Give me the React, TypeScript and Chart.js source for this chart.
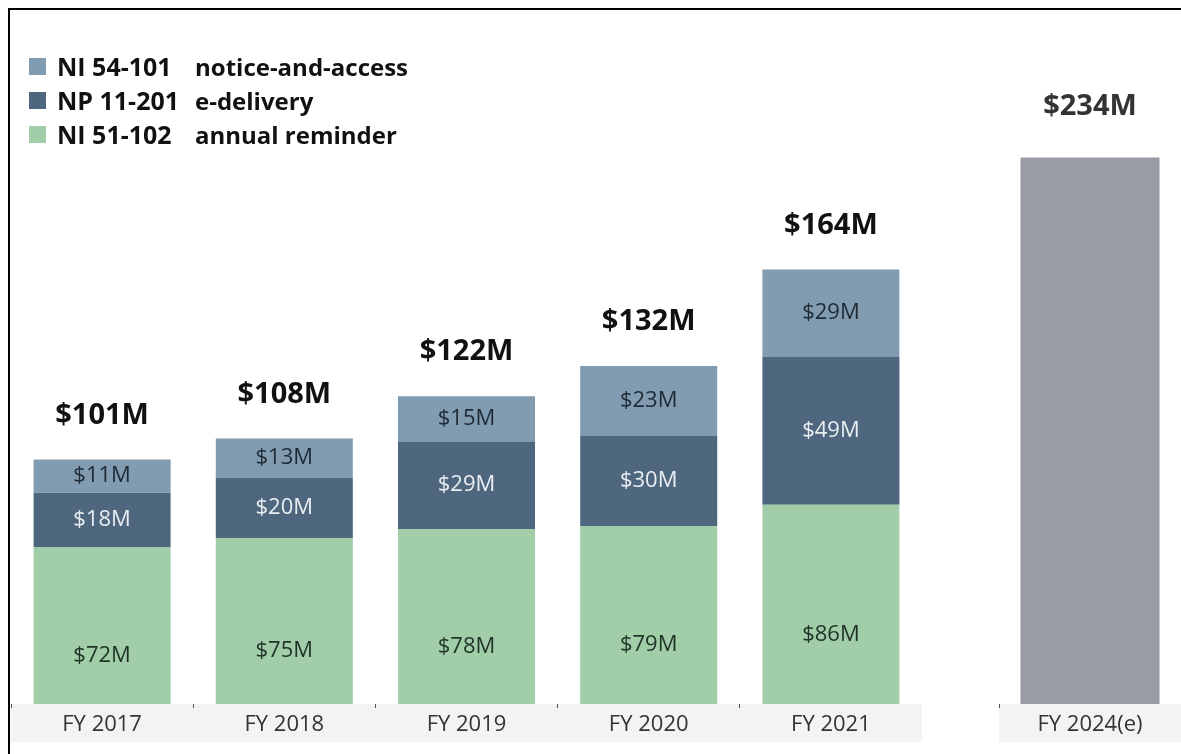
import React, { useEffect, useRef } from "react";
import { Chart, registerables } from "chart.js";

Chart.register(...registerables);

const categories = ["FY 2017", "FY 2018", "FY 2019", "FY 2020", "FY 2021"];
const reminderValues = [72, 75, 78, 79, 86];
const eDeliveryValues = [18, 20, 29, 30, 49];
const noticeValues = [11, 13, 15, 23, 29];
const forecastCategories = ["FY 2024(e)"];
const forecastValues = [234];

const legendItems = [
  { code: "NI 54-101", text: "notice-and-access", color: "#819bb0" },
  { code: "NP 11-201", text: "e-delivery", color: "#4e667e" },
  { code: "NI 51-102", text: "annual reminder", color: "#a1cda9" },
];

const FONT = "'Open Sans', 'Noto Sans', sans-serif";

const bandPlugin = {
  id: "band",
  beforeDraw(chart: any) {
    const { ctx, chartArea } = chart;
    ctx.save();
    ctx.fillStyle = "#f3f3f3";
    ctx.fillRect(chartArea.left, chartArea.bottom, chartArea.right - chartArea.left, 38);
    ctx.restore();
  },
};

function makeLabelPlugin(labelColors: string[], totalColor: string, totalOffset: number) {
  return {
    id: "segLabels",
    afterDatasetsDraw(chart: any) {
      const { ctx } = chart;
      const y = chart.scales.y;
      const datasets = chart.data.datasets;
      ctx.save();
      ctx.textAlign = "center";
      ctx.textBaseline = "middle";
      const n = datasets[0].data.length;
      if (datasets.length > 1) {
        datasets.forEach((ds: any, i: number) => {
          const meta = chart.getDatasetMeta(i);
          meta.data.forEach((bar: any, j: number) => {
            let start = 0;
            for (let k = 0; k < i; k++) start += datasets[k].data[j];
            const end = start + ds.data[j];
            const py = (y.getPixelForValue(start) + y.getPixelForValue(end)) / 2;
            ctx.font = `400 22px ${FONT}`;
            ctx.fillStyle = labelColors[i];
            ctx.fillText(`$${ds.data[j]}M`, bar.x, py);
          });
        });
      }
      const meta0 = chart.getDatasetMeta(0);
      for (let j = 0; j < n; j++) {
        let total = 0;
        datasets.forEach((ds: any) => (total += ds.data[j]));
        const px = meta0.data[j].x;
        const py = y.getPixelForValue(total) - totalOffset;
        ctx.font = `700 29px ${FONT}`;
        ctx.fillStyle = totalColor;
        ctx.fillText(`$${total}M`, px, py);
      }
      ctx.restore();
    },
  };
}

function xAxis() {
  return {
    stacked: true,
    grid: {
      display: true,
      drawOnChartArea: false,
      drawTicks: true,
      tickLength: 4,
      color: "#555",
      offset: true,
      lineWidth: 1,
    },
    border: { display: false },
    ticks: { font: { family: FONT, size: 22 }, color: "#333", padding: 4 },
    afterFit: (s: any) => {
      s.height = 40;
    },
  };
}

function MainChart() {
  const ref = useRef<HTMLCanvasElement>(null);
  useEffect(() => {
    const chart = new Chart(ref.current!, {
      type: "bar",
      data: {
        labels: categories,
        datasets: [
          { label: "NI 51-102 annual reminder", data: reminderValues, backgroundColor: "#a1cda9", clip: 0 } as any,
          { label: "NP 11-201 e-delivery", data: eDeliveryValues, backgroundColor: "#4e667e", clip: 0 } as any,
          { label: "NI 54-101 notice-and-access", data: noticeValues, backgroundColor: "#819bb0", clip: 0 } as any,
        ],
      },
      options: {
        responsive: false,
        animation: false,
        layout: { padding: { top: 30, left: 0, right: 0, bottom: 0 } },
        datasets: { bar: { categoryPercentage: 1, barPercentage: 0.752 } },
        plugins: { legend: { display: false }, tooltip: { enabled: false } },
        scales: {
          x: xAxis() as any,
          y: { stacked: true, display: false, min: 20, max: 240 },
        },
      },
      plugins: [bandPlugin, makeLabelPlugin(["#1f3326", "#e9eef2", "#1e2b36"], "#111111", 44)],
    });
    return () => chart.destroy();
  }, []);
  return (
    <canvas
      ref={ref}
      width={911}
      height={734}
      style={{ position: "absolute", left: 1, top: 0, width: 911, height: 734 }}
    />
  );
}

function ForecastChart() {
  const ref = useRef<HTMLCanvasElement>(null);
  useEffect(() => {
    const chart = new Chart(ref.current!, {
      type: "bar",
      data: {
        labels: forecastCategories,
        datasets: [{ label: "Total", data: forecastValues, backgroundColor: "#999ca3" }],
      },
      options: {
        responsive: false,
        animation: false,
        layout: { padding: { top: 40, left: 0, right: 0, bottom: 0 } },
        datasets: { bar: { categoryPercentage: 1, barPercentage: 0.764 } },
        plugins: { legend: { display: false }, tooltip: { enabled: false } },
        scales: {
          x: xAxis() as any,
          y: { stacked: true, display: false, min: 0, max: 280 },
        },
      },
      plugins: [bandPlugin, makeLabelPlugin([], "#333333", 51)],
    });
    return () => chart.destroy();
  }, []);
  return (
    <canvas
      ref={ref}
      width={182}
      height={734}
      style={{ position: "absolute", left: 989, top: 0, width: 182, height: 734 }}
    />
  );
}

export default function App() {
  return (
    <div
      style={{
        position: "fixed",
        left: 8,
        top: 8,
        width: 1190,
        height: 760,
        borderTop: "2px solid #000",
        borderLeft: "2px solid #000",
        background: "#fff",
        overflow: "hidden",
      }}
    >
      <MainChart />
      <ForecastChart />
      <div style={{ position: "absolute", left: 19, top: 39, fontFamily: FONT, fontWeight: 700, color: "#111" }}>
        {legendItems.map((it) => (
          <div key={it.code} style={{ display: "flex", alignItems: "center", height: 34 }}>
            <span style={{ width: 17, height: 17, background: it.color, marginRight: 11, display: "inline-block", flex: "none" }} />
            <span style={{ width: 138, display: "inline-block", whiteSpace: "nowrap", flex: "none", fontSize: 25 }}>{it.code}</span>
            <span style={{ whiteSpace: "nowrap", fontSize: 24 }}>{it.text}</span>
          </div>
        ))}
      </div>
    </div>
  );
}
